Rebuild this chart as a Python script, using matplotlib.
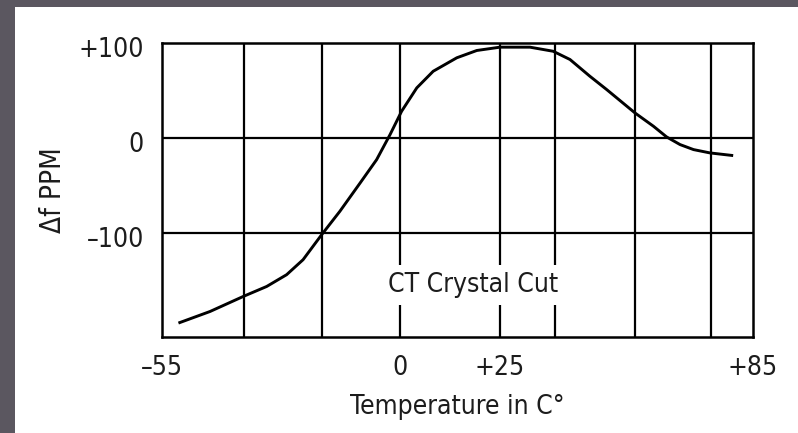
import matplotlib
matplotlib.use('Agg')
import matplotlib.pyplot as plt
import matplotlib.transforms as mtransforms
import numpy as np
from matplotlib.patches import Rectangle

# CT crystal cut frequency drift
temp_c = [-51.2, -43.9, -36.2, -30.8, -26.2, -22.4, -18.1, -13.9, -9.2, -5.4,
          -2.3, 0.4, 4.2, 8.3, 14.2, 19.2, 25.0, 32.1, 37.6, 41.6, 46.3,
          50.3, 57.0, 61.4, 64.5, 67.7, 70.9, 74.8, 80.3]
delta_ppm = [-195.3, -183.1, -167.2, -156.7, -144.3, -128.5, -102.1, -77.5, -47.5, -23.0,
             3.4, 28.0, 52.7, 70.2, 84.4, 92.1, 95.6, 95.6, 91.3, 82.6, 65.0,
             50.9, 26.3, 12.2, 1.0, -7.1, -12.4, -15.9, -18.7]

x_ticks = [-55, 0, 25, 85]
x_ticklabels = ['\u201355', '0', '+25', '+85']
x_grid = [-36, -18, 0, 25, 38, 57, 75]
y_ticks = [-100, 0, 100]
y_ticklabels = ['\u2013100', '0', '+100']

# the printed temperature axis is not quite linear: spacing between the labelled ticks
tick_span = [0, 238, 338, 591]


def fwd(t):
    return np.interp(t, x_ticks, tick_span)


def inv(p):
    return np.interp(p, tick_span, x_ticks)


plt.rcParams['font.family'] = ['DejaVu Sans']
plt.rcParams['font.stretch'] = 'condensed'
txt = '#1c1c1c'
fs = 19

fig = plt.figure(figsize=(7.98, 4.33), dpi=100)
fig.patch.set_facecolor('#5b5760')
# white page area
fig.add_artist(Rectangle((15 / 798, 0), 1, 1 - 7 / 433, transform=fig.transFigure,
                         facecolor='white', edgecolor='none', zorder=-10))

ax = fig.add_axes([0.203, 0.2217, 0.7406, 0.679])
ax.set_xscale('function', functions=(fwd, inv))
ax.set_xlim(-55, 85)
ax.set_ylim(-210, 100)

for x in x_grid:
    ax.axvline(x, color='black', lw=1.6, zorder=1)
for y in [0, -100]:
    ax.axhline(y, color='black', lw=1.6, zorder=1)

ax.plot(temp_c, delta_ppm, color='black', lw=2.1, solid_joinstyle='round',
        solid_capstyle='butt', zorder=3)

ax.text(18.2, -155, 'CT Crystal Cut', fontsize=fs, color=txt, ha='center', va='center',
        bbox=dict(facecolor='white', edgecolor='none', pad=5), zorder=4)

for s in ax.spines.values():
    s.set_linewidth(1.8)
    s.set_color('black')

ax.set_xticks(x_ticks)
ax.set_xticklabels(x_ticklabels)
ax.xaxis.set_minor_locator(matplotlib.ticker.NullLocator())
ax.set_yticks(y_ticks)
ax.set_yticklabels(y_ticklabels)
ax.tick_params(length=0, labelsize=fs, labelcolor=txt, pad=13)

# y labels sit a little below their grid lines in the original
shift = mtransforms.ScaledTranslation(0, -4 / 100, fig.dpi_scale_trans)
for lbl in ax.get_yticklabels():
    lbl.set_transform(lbl.get_transform() + shift)

ax.set_xlabel('Temperature in C\u00b0', fontsize=fs, color=txt, labelpad=9)
ax.set_ylabel('\u0394f PPM', fontsize=20, color=txt, labelpad=8)

fig.savefig('out.png', dpi=100, facecolor=fig.get_facecolor())
